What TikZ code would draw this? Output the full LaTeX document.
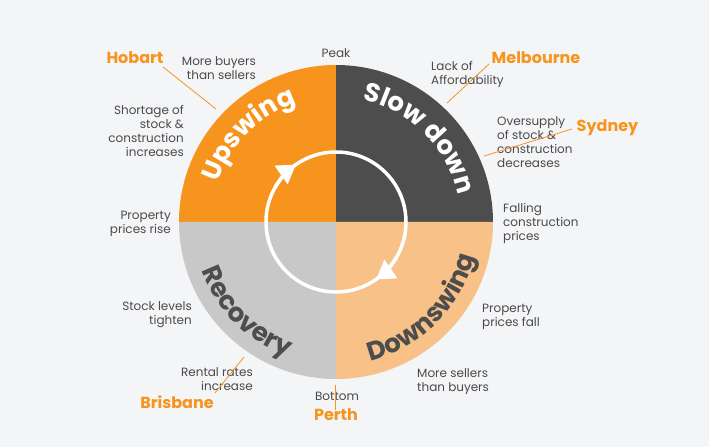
\documentclass[tikz,border=0pt]{standalone}
\usepackage{fontspec}
\setmainfont{Poppins}
\usetikzlibrary{decorations.text,arrows.meta}
\definecolor{qorange}{HTML}{F7941D}
\definecolor{qdark}{HTML}{4D4D4D}
\definecolor{qgray}{HTML}{C8C8C8}
\definecolor{qlight}{HTML}{F7C188}
\definecolor{qbg}{HTML}{F4F5F7}
\definecolor{qtext}{HTML}{4A4A4A}
\newcommand{\phasefont}{\fontsize{26}{26}\selectfont\bfseries}
\begin{document}
\begin{tikzpicture}[x=1pt,y=1pt,
  lbl/.style={text=qtext, font=\fontsize{12}{14}\selectfont, inner sep=0pt},
  lbll/.style={lbl, align=left, anchor=west},
  lblr/.style={lbl, align=right, anchor=east},
  lblc/.style={lbl, align=center},
  city/.style={text=qorange, font=\fontsize{16}{16}\selectfont\bfseries, inner sep=0pt},
  pointer/.style={qorange, line width=0.8pt},
  cyc/.style={white, line width=3.5pt},
  cyctip/.style={cyc, -{Triangle[length=18pt,width=22pt]}}
]
\fill[qbg] (0,0) rectangle (709,447);
\useasboundingbox (0,0) rectangle (709,447);
\coordinate (c) at (336,225);
% quadrants
\fill[qorange] (c) -- ++(90:157pt) arc[start angle=90,end angle=180,radius=157pt] -- cycle;
\fill[qdark] (c) -- ++(0:157pt) arc[start angle=0,end angle=90,radius=157pt] -- cycle;
\fill[qgray] (c) -- ++(180:157pt) arc[start angle=180,end angle=270,radius=157pt] -- cycle;
\fill[qlight] (c) -- ++(270:157pt) arc[start angle=270,end angle=360,radius=157pt] -- cycle;
% phase names
\path[decorate, decoration={text along path, text align=center,
  text={|\phasefont\color{white}|Upswing}}]
  (c) ++(180:125pt) arc[start angle=180,end angle=90,radius=125pt];
\path[decorate, decoration={text along path, text align=center,
  text={|\phasefont\color{white}|Slow down}}]
  (c) ++(90:125pt) arc[start angle=90,end angle=0,radius=125pt];
\path[decorate, decoration={text along path, text align=center,
  text={|\phasefont\color{qdark}|Recovery}}]
  (c) ++(180:143pt) arc[start angle=180,end angle=270,radius=143pt];
\path[decorate, decoration={text along path, text align=center,
  text={|\phasefont\color{qdark}|Downswing}}]
  (c) ++(270:143pt) arc[start angle=270,end angle=360,radius=143pt];
% cycle arrows
\draw[cyc] (c) circle[radius=70pt];
\draw[cyctip] (c) ++(150:70pt) arc[start angle=150,end angle=125,radius=70pt];
\draw[cyctip] (c) ++(-30:70pt) arc[start angle=-30,end angle=-55,radius=70pt];
% labels
\node[lblc] (peak) at (336,394) {Peak};
\node[lblr] (buyers) at (256,378.5) {More buyers\\than sellers};
\node[lblr] (shortage) at (184,316) {Shortage of\\stock \&\\construction\\increases};
\node[lblr] (rise) at (171,223) {Property\\prices rise};
\node[lblr] (tighten) at (192,132) {Stock levels\\tighten};
\node[lblr] (rental) at (253,68) {Rental rates\\increase};
\node[lblc] (bottom) at (337,51) {Bottom};
\node[lbll] (sellers) at (417,65.5) {More sellers\\than buyers};
\node[lbll] (fall) at (482,130.5) {Property\\prices fall};
\node[lbll] (falling) at (503,224) {Falling\\construction\\prices};
\node[lbll] (oversupply) at (497,305) {Oversupply\\of stock \&\\construction\\decreases};
\node[lbll] (lack) at (431,372.5) {Lack of\\Affordability};
% cities
\node[city] (hobart) at (135,389) {Hobart};
\node[city] (melbourne) at (536,389) {Melbourne};
\node[city] (sydney) at (607.5,319) {Sydney};
\node[city] (brisbane) at (177,45) {Brisbane};
\node[city] (perth) at (336,32) {Perth};
% pointer lines
\coordinate (hobA) at (163,380);
\coordinate (hobB) at (216,338);
\coordinate (melA) at (489,383);
\coordinate (melB) at (447,344);
\coordinate (sydA) at (572,318);
\coordinate (sydB) at (484,291);
\coordinate (briA) at (244,90);
\coordinate (briB) at (215,54);
\coordinate (perA) at (335,62);
\coordinate (perB) at (335,37);
\draw[pointer] (hobA) -- (hobB);
\draw[pointer] (melA) -- (melB);
\draw[pointer] (sydA) -- (sydB);
\draw[pointer] (briA) -- (briB);
\draw[pointer] (perA) -- (perB);
\end{tikzpicture}
\end{document}
